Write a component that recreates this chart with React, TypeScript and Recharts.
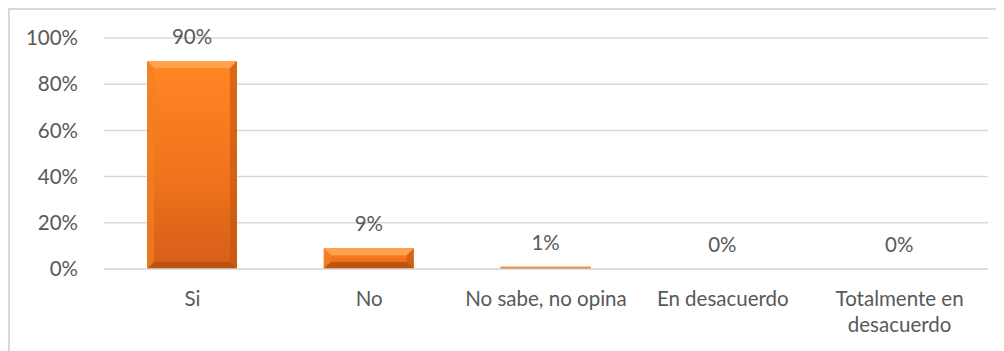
import { BarChart, Bar, XAxis, YAxis, CartesianGrid, LabelList, Text } from 'recharts';

const CATEGORIES = ['Si', 'No', 'No sabe, no opina', 'En desacuerdo', 'Totalmente en desacuerdo'];
const PERCENTS = [90, 9, 1, 0, 0];
const Y_TICKS = [0, 20, 40, 60, 80, 100];

const data = CATEGORIES.map((name, i) => ({ name, value: PERCENTS[i] }));

const FONT = 'Lato, "Noto Sans", sans-serif';
const FONT_SIZE = 20.5;
const TEXT_COLOR = '#595959';
const GRID_COLOR = '#d9d9d9';

// bar with a bevelled edge, like an office chart preset
function BevelBar(props: any) {
  const { x, y, width, height } = props;
  if (!height || height <= 0) return null;
  const b = Math.min(7, height / 2, width / 2);
  const r = x + width;
  const btm = y + height;
  return (
    <g>
      <rect x={x} y={y} width={width} height={height} fill="url(#barFace)" />
      <polygon points={`${x},${y} ${r},${y} ${r - b},${y + b} ${x + b},${y + b}`} fill="#ffa24d" />
      <polygon points={`${x},${y} ${x + b},${y + b} ${x + b},${btm - b} ${x},${btm}`} fill="#f28022" opacity={0.7} />
      <polygon points={`${r},${y} ${r},${btm} ${r - b},${btm - b} ${r - b},${y + b}`} fill="#c0560f" opacity={0.6} />
      <polygon points={`${x},${btm} ${x + b},${btm - b} ${r - b},${btm - b} ${r},${btm}`} fill="#b14e10" opacity={0.75} />
    </g>
  );
}

function CategoryTick(props: any) {
  const { x, y, payload } = props;
  const style = { fontSize: FONT_SIZE, fontFamily: FONT };
  return (
    <Text
      x={x}
      y={y}
      width={176}
      textAnchor="middle"
      verticalAnchor="start"
      lineHeight={26}
      fill={TEXT_COLOR}
      style={style}
    >
      {payload.value}
    </Text>
  );
}

export default function App() {
  return (
    <div
      style={{
        width: 996,
        height: 343,
        borderTop: `2px solid ${GRID_COLOR}`,
        borderLeft: `2px solid ${GRID_COLOR}`,
        boxSizing: 'border-box',
        overflow: 'hidden',
      }}
    >
      <BarChart
        width={994}
        height={341}
        data={data}
        margin={{ top: 28, right: 16, left: 0, bottom: 0 }}
        barSize={90}
      >
        <defs>
          <linearGradient id="barFace" x1="0" y1="0" x2="0" y2="1">
            <stop offset="0%" stopColor="#ff8624" />
            <stop offset="55%" stopColor="#f0741c" />
            <stop offset="100%" stopColor="#d55d18" />
          </linearGradient>
        </defs>
        <CartesianGrid vertical={false} stroke={GRID_COLOR} strokeWidth={1.5} />
        <XAxis
          dataKey="name"
          axisLine={{ stroke: GRID_COLOR, strokeWidth: 1.5 }}
          tickLine={false}
          tickSize={0}
          tickMargin={22}
          height={82}
          interval={0}
          tick={<CategoryTick />}
        />
        <YAxis
          domain={[0, 100]}
          ticks={Y_TICKS}
          tickFormatter={(v: number) => `${v}%`}
          axisLine={false}
          tickLine={false}
          tickSize={0}
          tickMargin={26}
          width={94}
          tick={{ fill: TEXT_COLOR, fontSize: FONT_SIZE, fontFamily: FONT }}
        />
        <Bar dataKey="value" shape={<BevelBar />} isAnimationActive={false}>
          <LabelList
            dataKey="value"
            position="top"
            offset={17}
            formatter={(v: any) => `${v}%`}
            fill={TEXT_COLOR}
            fontSize={FONT_SIZE}
            fontFamily={FONT}
          />
        </Bar>
      </BarChart>
    </div>
  );
}
